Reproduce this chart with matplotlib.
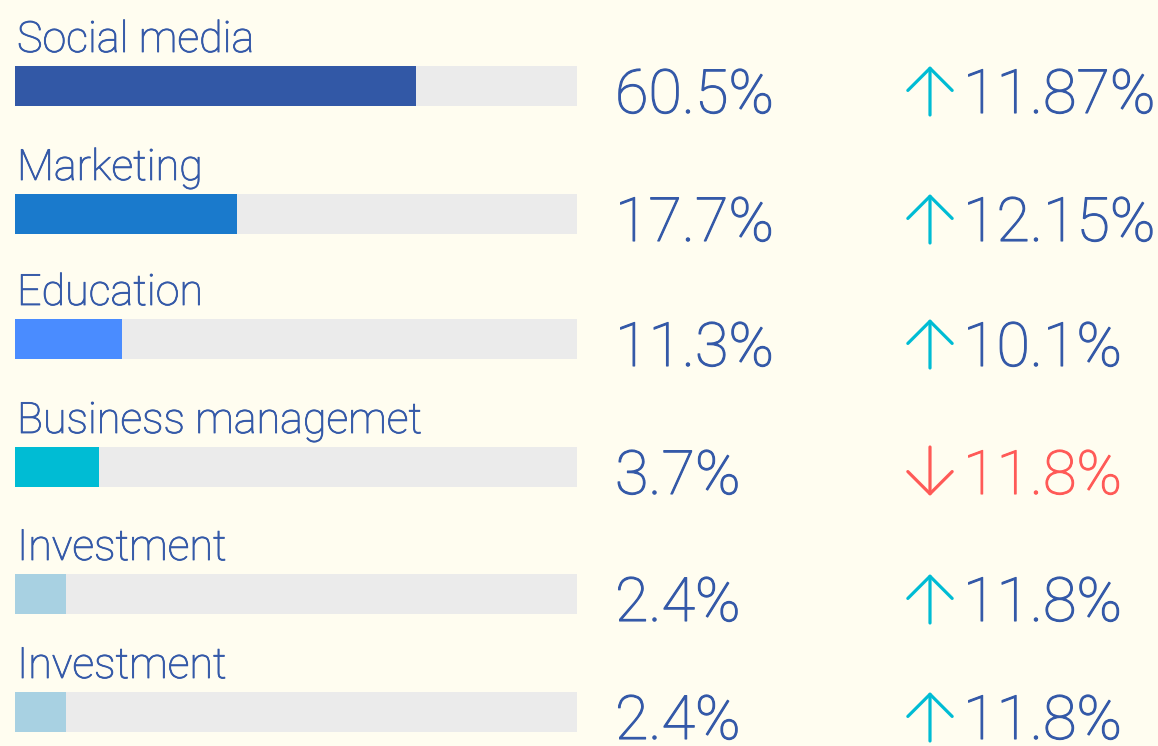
import matplotlib
matplotlib.use("Agg")
import matplotlib.pyplot as plt
import matplotlib.patheffects as pe

# data
categories = ["Social media", "Marketing", "Education", "Business managemet", "Investment", "Investment"]
bar_fill = [71.3, 39.5, 19.0, 14.9, 9.0, 9.0]          # filled share of each track (%)
share_labels = ["60.5%", "17.7%", "11.3%", "3.7%", "2.4%", "2.4%"]
change_values = [11.87, 12.15, 10.1, -11.8, 11.8, 11.8]
change_labels = ["11.87%", "12.15%", "10.1%", "11.8%", "11.8%", "11.8%"]

# style
BG = "#fffdf0"
TEXT_BLUE = "#3459a8"
TRACK = "#ebebeb"
BAR_COLORS = ["#3258a6", "#1a7acc", "#4a8cff", "#00bcd4", "#a8d1e2", "#a8d1e2"]
UP_COLOR = "#00bcd4"
DOWN_COLOR = "#ff5a57"
FONT = ["Roboto", "DejaVu Sans"]

W, H = 1158, 746
ROW_TOPS = [66, 194, 319, 447, 574, 692]
BAR_H = 40
TRACK_X0, TRACK_X1 = 15, 577
track_len = TRACK_X1 - TRACK_X0

fig = plt.figure(figsize=(W / 100, H / 100), dpi=100, facecolor=BG)
ax = fig.add_axes([0, 0, 1, 1])
ax.set_xlim(0, W)
ax.set_ylim(H, 0)
ax.axis("off")
ax.set_facecolor(BG)

centers = [t + BAR_H / 2 for t in ROW_TOPS]
ax.barh(centers, [track_len] * len(centers), left=TRACK_X0, height=BAR_H,
        color=TRACK, linewidth=0)
ax.barh(centers, [v / 100 * track_len for v in bar_fill], left=TRACK_X0,
        height=BAR_H, color=BAR_COLORS, linewidth=0)


def thick(c, w):
    return [pe.withStroke(linewidth=w, foreground=c)]


for i, top in enumerate(ROW_TOPS):
    base = top + BAR_H + 7
    ax.text(17, top - 14, categories[i], fontsize=31, color=TEXT_BLUE,
            family=FONT, weight="light", va="baseline", ha="left",
            path_effects=thick(TEXT_BLUE, 0.6))
    ax.text(615, base, share_labels[i], fontsize=44, color=TEXT_BLUE,
            family=FONT, weight="light", va="baseline", ha="left",
            path_effects=thick(TEXT_BLUE, 0.8))

    # trend arrow (open chevron head)
    up = change_values[i] >= 0
    acol = UP_COLOR if up else DOWN_COLOR
    y_tip, y_tail = (base - 47, base + 2) if up else (base + 2, base - 47)
    ax.annotate("", xy=(930, y_tip), xytext=(930, y_tail),
                arrowprops=dict(arrowstyle="->,head_length=0.42,head_width=0.42",
                                color=acol, lw=2.3, mutation_scale=38,
                                shrinkA=0, shrinkB=0, capstyle="round"))
    ax.text(963, base, change_labels[i], fontsize=44,
            color=TEXT_BLUE if up else DOWN_COLOR,
            family=FONT, weight="light", va="baseline", ha="left",
            path_effects=thick(TEXT_BLUE if up else DOWN_COLOR, 0.8))

fig.savefig("out.png", dpi=100, facecolor=BG)
